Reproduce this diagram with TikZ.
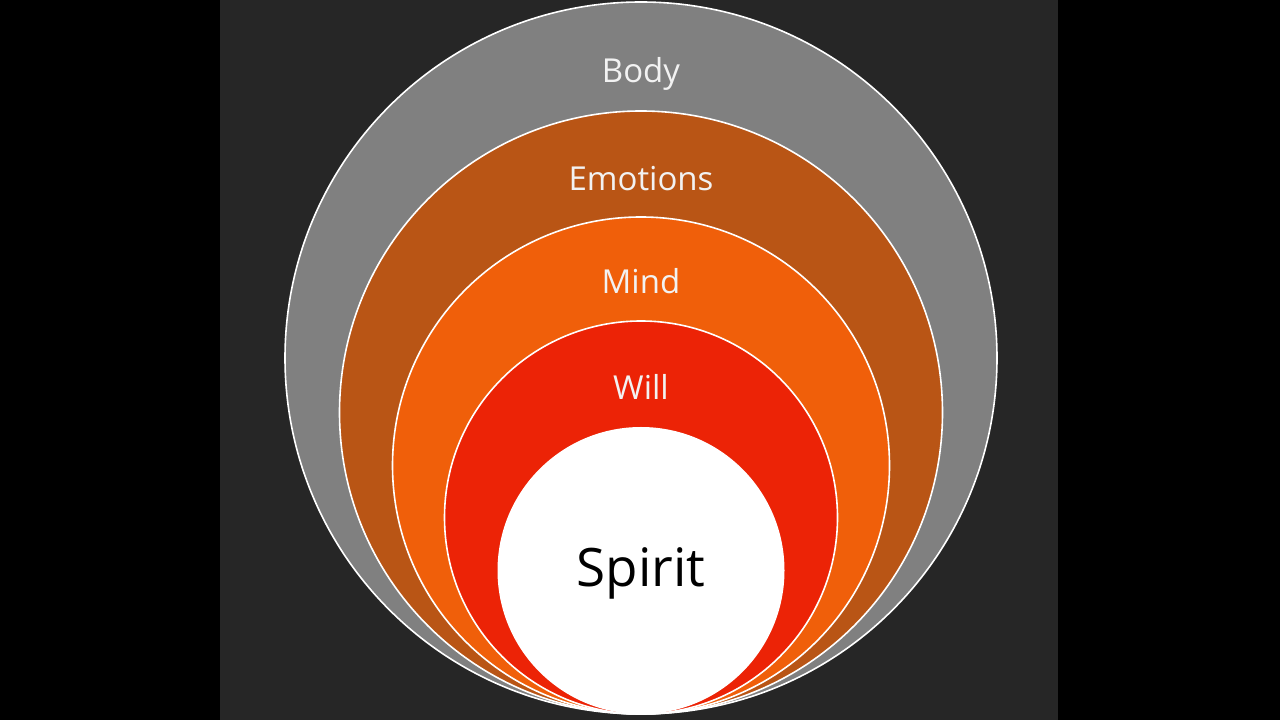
\documentclass[tikz,border=0pt]{standalone}
\usepackage{fontspec}
\setmainfont{Open Sans}
\usepackage{tikz}
\usetikzlibrary{positioning, calc}
\definecolor{panelgray}{HTML}{262626}
\definecolor{bodygray}{HTML}{808080}
\definecolor{emotionbrown}{HTML}{B95515}
\definecolor{mindorange}{HTML}{F05F0A}
\definecolor{willred}{HTML}{EC2306}
\tikzset{
	ring/.style={
			circle,
			draw=white,
			line width=1.6pt,
			inner sep=0pt
		},
	ringlabel/.style={
			anchor=base,
			text=white!95!black,
			font=\fontsize{33}{36}\selectfont
		},
	corelabel/.style={
			anchor=base,
			text=black,
			font=\fontsize{53}{58}\selectfont
		}
}

\begin{document}
\begin{tikzpicture}[x=1pt, y=1pt]
\fill[black] (0,0) rectangle (1280,720);
\fill[panelgray] (220,0) rectangle (1058,720);
\useasboundingbox (0,0) rectangle (1280,720);

\node[ring, fill=bodygray, minimum size=712pt] (body) at (641,362) {};
\node[ring, fill=emotionbrown, minimum size=603pt] (emotions) at (641,307.5) {};
\node[ring, fill=mindorange, minimum size=497pt] (mind) at (641,254.5) {};
\node[ring, fill=willred, minimum size=393pt] (will) at (641,202.5) {};
\node[circle, fill=white, minimum size=287pt, inner sep=0pt] (spirit) at (641,149.5) {};

\node[ringlabel] (bodytext) at ([yshift=-81pt]body.north) {Body};
\node[ringlabel] (emotionstext) at ([yshift=-80pt]emotions.north) {Emotions};
\node[ringlabel] (mindtext) at ([yshift=-77pt]mind.north) {Mind};
\node[ringlabel] (willtext) at ([yshift=-79pt]will.north) {Will};
\node[corelabel] (spirittext) at ([yshift=-16.5pt]spirit.center) {Spirit};
\end{tikzpicture}
\end{document}
